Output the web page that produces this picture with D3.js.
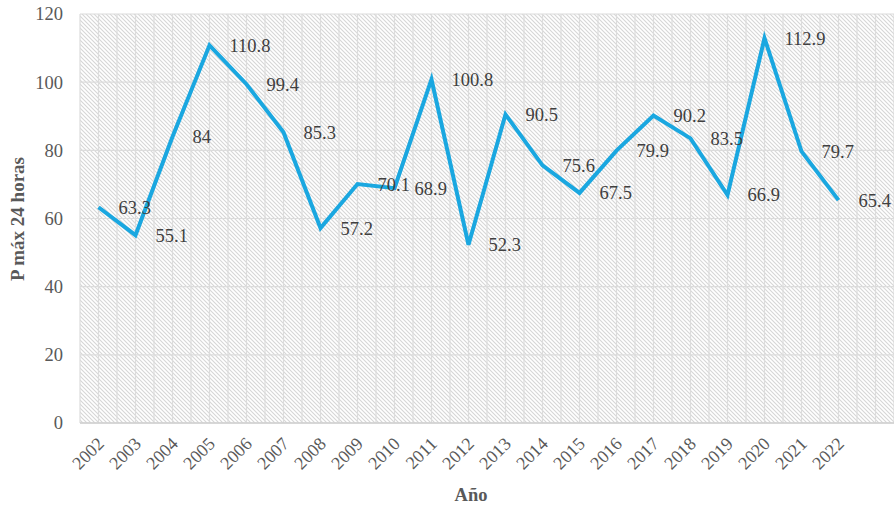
<!DOCTYPE html>
<html>
<head>
<meta charset="utf-8">
<script src="https://cdn.jsdelivr.net/npm/d3@7"></script>
<style>
  html, body { margin: 0; padding: 0; background: #ffffff; }
  svg { display: block; }
</style>
</head>
<body>
<svg id="chart" width="894" height="510"></svg>
<script>
// ---- data ----
const years = ["2002","2003","2004","2005","2006","2007","2008","2009","2010","2011","2012",
               "2013","2014","2015","2016","2017","2018","2019","2020","2021","2022"];
const values = [63.3, 55.1, 84, 110.8, 99.4, 85.3, 57.2, 70.1, 68.9, 100.8, 52.3,
                90.5, 75.6, 67.5, 79.9, 90.2, 83.5, 66.9, 112.9, 79.7, 65.4];
const labels = ["63.3","55.1","84","110.8","99.4","85.3","57.2","70.1","68.9","100.8","52.3",
                "90.5","75.6","67.5","79.9","90.2","83.5","66.9","112.9","79.7","65.4"];
const yTicks = [0, 20, 40, 60, 80, 100, 120];
const yTitle = "P máx 24 horas";
const xTitle = "Año";

// ---- layout ----
const FONT = "'Liberation Serif', 'Times New Roman', serif";
const svg = d3.select("#chart");
const L = 80, R = 894, T = 14, B = 423;
const nSlots = 22; // plot area holds one extra empty category slot on the right

const x = d3.scaleLinear().domain([-0.5, nSlots - 0.5]).range([L, R]);
const y = d3.scaleLinear().domain([0, 120]).range([B, T]);

// hatch pattern
const defs = svg.append("defs");
const pat = defs.append("pattern")
  .attr("id", "hatch").attr("patternUnits", "userSpaceOnUse")
  .attr("width", 4).attr("height", 4);
pat.append("rect").attr("width", 4).attr("height", 4).attr("fill", "#ffffff");
pat.append("path").attr("d", "M-1,-1 L5,5 M-1,3 L1,5 M3,-1 L5,1")
  .attr("stroke", "#d6d6d6").attr("stroke-width", 1.1);

svg.append("rect").attr("x", L).attr("y", T).attr("width", R - L).attr("height", B - T)
  .attr("fill", "url(#hatch)");

// gridlines
const g = svg.append("g");
g.selectAll("line.h").data(yTicks).join("line").attr("class", "h")
  .attr("x1", L).attr("x2", R).attr("y1", d => y(d)).attr("y2", d => y(d))
  .attr("stroke", "#dcdcdc").attr("stroke-width", 1.2);
const halfSteps = d3.range(0, nSlots * 2 + 1).map(k => -0.5 + k * 0.5);
g.selectAll("line.v").data(halfSteps).join("line").attr("class", "v")
  .attr("y1", T).attr("y2", B).attr("x1", d => x(d)).attr("x2", d => x(d))
  .attr("stroke", "#dcdcdc").attr("stroke-width", 1.2);

// bottom axis line
svg.append("line").attr("x1", L).attr("x2", R).attr("y1", B).attr("y2", B)
  .attr("stroke", "#cfcfcf").attr("stroke-width", 1.5);

// y axis
const yAxis = svg.append("g").attr("transform", `translate(${L},0)`)
  .call(d3.axisLeft(y).tickValues(yTicks).tickSize(0).tickPadding(17));
yAxis.select(".domain").remove();
yAxis.selectAll("text")
  .attr("font-family", FONT)
  .attr("font-size", 18.5).attr("fill", "#595959");

// x axis
const xAxis = svg.append("g").attr("transform", `translate(0,${B})`)
  .call(d3.axisBottom(x).tickValues(d3.range(years.length)).tickFormat(i => years[i]).tickSize(0));
xAxis.select(".domain").remove();
xAxis.selectAll("text")
  .attr("font-family", FONT)
  .attr("font-size", 18).attr("fill", "#595959")
  .attr("text-anchor", "end")
  .attr("dy", null).attr("y", 0)
  .attr("transform", "translate(6,22) rotate(-45)");

// line
const line = d3.line().x((d, i) => x(i)).y(d => y(d));
svg.append("path").datum(values)
  .attr("d", line).attr("fill", "none")
  .attr("stroke", "#1aa7e0").attr("stroke-width", 4)
  .attr("stroke-linejoin", "miter").attr("stroke-linecap", "butt");

// data labels (right of points)
svg.append("g").selectAll("text").data(values).join("text")
  .attr("x", (d, i) => x(i) + 20).attr("y", d => y(d)).attr("dy", "0.35em")
  .attr("font-family", FONT)
  .attr("font-size", 18.5).attr("fill", "#404040")
  .text((d, i) => labels[i]);

// axis titles
svg.append("text").attr("transform", "translate(24,219) rotate(-90)")
  .attr("text-anchor", "middle")
  .attr("font-family", FONT)
  .attr("font-size", 19).attr("font-weight", "bold").attr("fill", "#595959")
  .text(yTitle);
svg.append("text").attr("x", 471).attr("y", 501)
  .attr("text-anchor", "middle")
  .attr("font-family", FONT)
  .attr("font-size", 18.5).attr("font-weight", "bold").attr("fill", "#595959")
  .text(xTitle);
</script>
</body>
</html>
